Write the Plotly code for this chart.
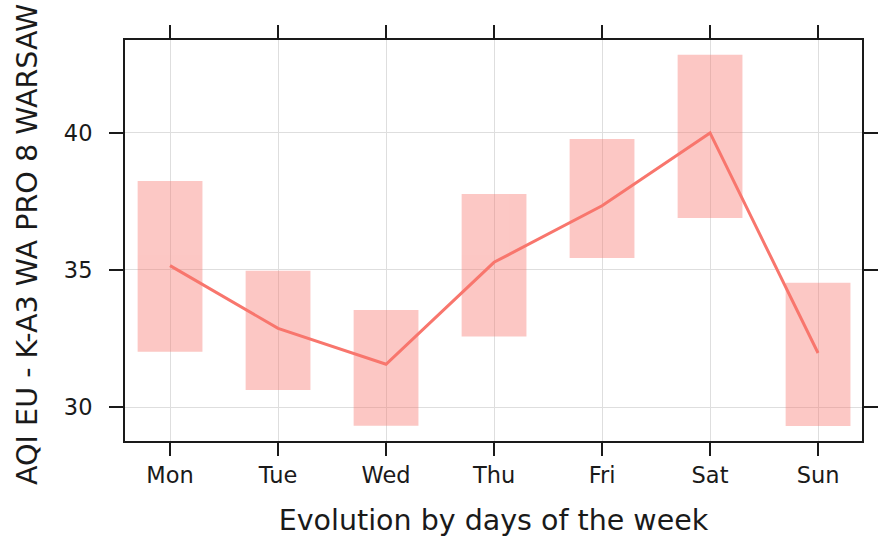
import plotly.graph_objects as go

days = ["Mon", "Tue", "Wed", "Thu", "Fri", "Sat", "Sun"]
mean_vals = [35.16, 32.87, 31.56, 35.28, 37.34, 40.00, 31.97]
lower_vals = [32.02, 30.62, 29.32, 32.57, 35.44, 36.90, 29.31]
upper_vals = [38.25, 34.97, 33.54, 37.77, 39.78, 42.85, 34.53]
y_ticks = [30, 35, 40]

x_pos = list(range(len(days)))
line_color = "#F8766D"
font_family = "DejaVu Sans"
y_range = [28.76, 43.39]

fig = go.Figure()
fig.add_trace(go.Bar(
    x=x_pos,
    y=[u - l for u, l in zip(upper_vals, lower_vals)],
    base=lower_vals,
    width=0.6,
    marker=dict(color=line_color, line=dict(width=0)),
    opacity=0.4,
    showlegend=False,
    hoverinfo="skip",
))
fig.add_trace(go.Scatter(
    x=x_pos, y=mean_vals, mode="lines",
    line=dict(color=line_color, width=3),
    showlegend=False, yaxis="y2",
))

fig.update_layout(
    width=892, height=537,
    margin=dict(l=125, r=30, t=40, b=96, autoexpand=False),
    plot_bgcolor="white", paper_bgcolor="white",
    font=dict(family=font_family, color="#1a1a1a", size=22),
    barmode="overlay",
    annotations=[dict(
        text="AQI EU - K-A3 WA PRO 8 WARSAW",
        xref="paper", yref="paper", x=0, y=0.4888,
        xshift=-98, xanchor="center", yanchor="middle",
        textangle=-90, showarrow=False,
        font=dict(size=28.6, family=font_family, color="#1a1a1a"),
    )],
    yaxis2=dict(
        overlaying="y", side="left", range=y_range,
        tickvals=y_ticks, ticks="outside", ticklen=27, tickcolor="rgba(0,0,0,0)",
        showgrid=False, showline=False, zeroline=False, automargin=False,
        showticklabels=True,
        tickfont=dict(size=22.5),
    ),
)
fig.update_xaxes(
    range=[-0.417, 6.407],
    tickvals=x_pos, ticktext=days,
    showline=True, linecolor="#1a1a1a", linewidth=1.5,
    mirror="ticks", ticks="outside", ticklen=13, tickwidth=1.5, tickcolor="#1a1a1a",
    showgrid=True, gridcolor="#dedede", gridwidth=1,
    zeroline=False, automargin=False,
    tickfont=dict(size=22.5),
    title=dict(text="Evolution by days of the week", font=dict(size=28.5), standoff=24),
)
fig.update_layout(yaxis=dict(
    range=y_range,
    tickvals=y_ticks, showticklabels=False,
    showline=True, linecolor="#1a1a1a", linewidth=1.5,
    mirror="ticks", ticks="outside", ticklen=14, tickwidth=1.5, tickcolor="#1a1a1a",
    showgrid=True, gridcolor="#dedede", gridwidth=1,
    zeroline=False, automargin=False,
))

fig.write_html("out.html", config={"displayModeBar": False},
               post_script="document.body.style.margin='0';")
